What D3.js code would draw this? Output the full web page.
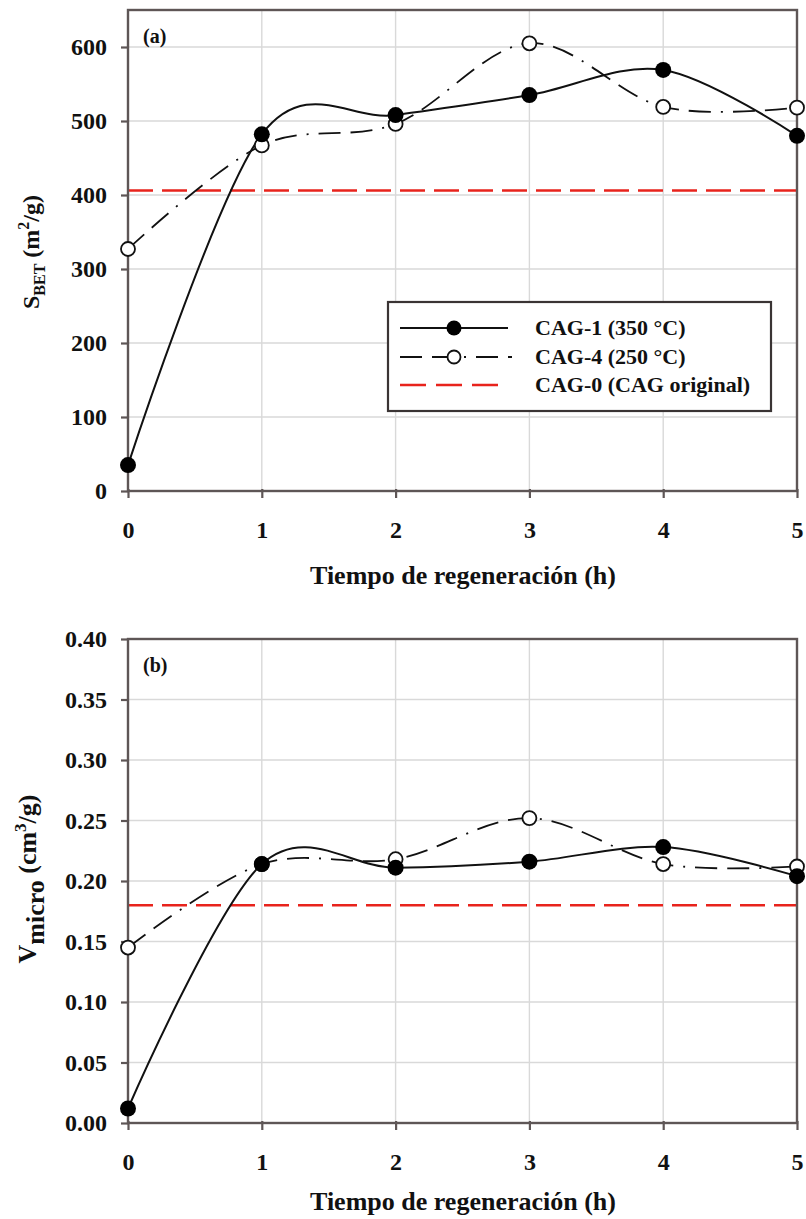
<!DOCTYPE html>
<html>
<head>
<meta charset="utf-8">
<script src="https://cdn.jsdelivr.net/npm/d3@7/dist/d3.min.js"></script>
<style>
  body { margin: 0; background: #fff; }
  svg { display: block; font-family: "Liberation Serif", "Times New Roman", serif; font-weight: bold; }
</style>
</head>
<body>
<svg id="chart" width="806" height="1219"></svg>
<script>
// regeneration time (h)
var hours = [0, 1, 2, 3, 4, 5];
// panel (a) S_BET (m2/g)
var sbetCag1 = [35, 482, 508, 535, 569, 480];
var sbetCag4 = [327, 467, 496, 605, 519, 518];
var sbetCag0 = 406;
var sbetTicks = [0, 100, 200, 300, 400, 500, 600];
// panel (b) V_micro (cm3/g)
var vmicCag1 = [0.012, 0.214, 0.211, 0.216, 0.228, 0.204];
var vmicCag4 = [0.145, 0.214, 0.218, 0.252, 0.214, 0.212];
var vmicCag0 = 0.18;
var vmicTicks = [0, 0.05, 0.10, 0.15, 0.20, 0.25, 0.30, 0.35, 0.40];
var legendNames = ['CAG-1 (350 °C)', 'CAG-4 (250 °C)', 'CAG-0 (CAG original)'];

const svg = d3.select('#chart');
const frameColor = '#5e5656';
const dashCag4 = '22,10,22,10,2,10';

//Draws one panel with grid, frame, curves, markers and labels
function drawPanel(opts) {
    const g = svg.append('g');
    const x = d3.scaleLinear().domain([0, 5]).range([128, 797]);
    const y = d3.scaleLinear().domain(opts.domain).range([opts.bottom, opts.top]);

    // grid
    g.selectAll('.hgrid').data(opts.ticks.filter(function(d) { return d > opts.domain[0]; }))
        .enter().append('line')
        .attr('x1', x(0)).attr('x2', x(5))
        .attr('y1', function(d) { return y(d); }).attr('y2', function(d) { return y(d); })
        .attr('stroke', '#d9d9d9').attr('stroke-width', 1.4);
    g.selectAll('.vgrid').data(hours.slice(1, 5))
        .enter().append('line')
        .attr('x1', function(d) { return x(d); }).attr('x2', function(d) { return x(d); })
        .attr('y1', y(opts.domain[0])).attr('y2', y(opts.domain[1]))
        .attr('stroke', '#d9d9d9').attr('stroke-width', 1.4);

    // axes
    const yAxis = d3.axisLeft(y).tickValues(opts.ticks).tickFormat(opts.fmt).tickSize(7).tickPadding(14);
    const xAxis = d3.axisBottom(x).tickValues(hours).tickFormat(d3.format('d')).tickSize(7).tickPadding(23);
    const ya = g.append('g').attr('transform', 'translate(' + x(0) + ',0)').call(yAxis);
    const xa = g.append('g').attr('transform', 'translate(0,' + y(opts.domain[0]) + ')').call(xAxis);
    [ya, xa].forEach(function(a) {
        a.select('.domain').remove();
        a.selectAll('line').attr('stroke', frameColor).attr('stroke-width', 2.2);
        a.selectAll('text').attr('fill', '#111').style('font-size', '24px')
            .style('font-family', '"Liberation Serif", serif').style('font-weight', 'bold');
    });
    xa.selectAll('line').attr('y1', -2);

    // red reference line
    g.append('line')
        .attr('x1', x(0)).attr('x2', x(5))
        .attr('y1', y(opts.ref)).attr('y2', y(opts.ref))
        .attr('stroke', '#e8231c').attr('stroke-width', 2.4)
        .attr('stroke-dasharray', '25,9');

    const line = d3.line()
        .x(function(d, i) { return x(hours[i]); })
        .y(function(d) { return y(d); })
        .curve(d3.curveCatmullRom.alpha(0));

    g.append('path').datum(opts.s4).attr('d', line)
        .attr('fill', 'none').attr('stroke', '#111').attr('stroke-width', 1.8)
        .attr('stroke-dasharray', dashCag4);
    g.append('path').datum(opts.s1).attr('d', line)
        .attr('fill', 'none').attr('stroke', '#111').attr('stroke-width', 2);

    // frame
    g.append('rect')
        .attr('x', x(0)).attr('y', y(opts.domain[1]))
        .attr('width', x(5) - x(0)).attr('height', y(opts.domain[0]) - y(opts.domain[1]))
        .attr('fill', 'none').attr('stroke', frameColor).attr('stroke-width', 2.4);

    // markers
    g.selectAll('.m4').data(opts.s4).enter().append('circle')
        .attr('cx', function(d, i) { return x(hours[i]); }).attr('cy', function(d) { return y(d); })
        .attr('r', 7).attr('fill', '#fff').attr('stroke', '#111').attr('stroke-width', 1.8);
    g.selectAll('.m1').data(opts.s1).enter().append('circle')
        .attr('cx', function(d, i) { return x(hours[i]); }).attr('cy', function(d) { return y(d); })
        .attr('r', 8).attr('fill', '#000');

    // panel letter
    g.append('text').attr('x', 143).attr('y', y(opts.domain[1]) + 33)
        .style('font-size', '20px').attr('fill', '#111').text(opts.letter);

    // x title
    g.append('text').attr('x', 463).attr('y', opts.titleY)
        .attr('text-anchor', 'middle').style('font-size', '26px').attr('fill', '#111')
        .text('Tiempo de regeneración (h)');

    return { g: g, x: x, y: y };
}

const pa = drawPanel({ domain: [0, 650], top: 10, bottom: 491, ticks: sbetTicks, fmt: d3.format('d'),
    s1: sbetCag1, s4: sbetCag4, ref: sbetCag0, letter: '(a)', titleY: 584 });
const pb = drawPanel({ domain: [0, 0.40], top: 639, bottom: 1123, ticks: vmicTicks, fmt: d3.format('.2f'),
    s1: vmicCag1, s4: vmicCag4, ref: vmicCag0, letter: '(b)', titleY: 1210 });

// y titles
const ta = svg.append('text').attr('transform', 'translate(39,252) rotate(-90)')
    .attr('text-anchor', 'middle').style('font-size', '24px').attr('fill', '#111');
ta.append('tspan').text('S');
ta.append('tspan').attr('dy', 6).style('font-size', '16px').text('BET');
ta.append('tspan').attr('dy', -6).text(' (m');
ta.append('tspan').attr('dy', -10).style('font-size', '16px').text('2');
ta.append('tspan').attr('dy', 10).text('/g)');

const tb = svg.append('text').attr('transform', 'translate(36,879) rotate(-90)')
    .attr('text-anchor', 'middle').style('font-size', '26px').attr('fill', '#111');
tb.append('tspan').text('V');
tb.append('tspan').attr('dy', 8).text('micro');
tb.append('tspan').attr('dy', -8).text(' (cm');
tb.append('tspan').attr('dy', -10).style('font-size', '17px').text('3');
tb.append('tspan').attr('dy', 10).text('/g)');

// legend
const lg = svg.append('g');
lg.append('rect').attr('x', 388).attr('y', 302).attr('width', 383).attr('height', 109)
    .attr('fill', '#fff').attr('stroke', '#3a3434').attr('stroke-width', 2.2);
const rows = [328, 357, 385];
lg.append('line').attr('x1', 400).attr('x2', 508).attr('y1', rows[0]).attr('y2', rows[0])
    .attr('stroke', '#111').attr('stroke-width', 2);
lg.append('circle').attr('cx', 454).attr('cy', rows[0]).attr('r', 7.5).attr('fill', '#000');
lg.append('line').attr('x1', 400).attr('x2', 512).attr('y1', rows[1]).attr('y2', rows[1])
    .attr('stroke', '#111').attr('stroke-width', 1.8).attr('stroke-dasharray', dashCag4);
lg.append('circle').attr('cx', 454).attr('cy', rows[1]).attr('r', 6.5).attr('fill', '#fff')
    .attr('stroke', '#111').attr('stroke-width', 1.8);
lg.append('line').attr('x1', 400).attr('x2', 508).attr('y1', rows[2]).attr('y2', rows[2])
    .attr('stroke', '#e8231c').attr('stroke-width', 2.4).attr('stroke-dasharray', '26,10');
lg.selectAll('.lt').data(legendNames).enter().append('text')
    .attr('x', 535).attr('y', function(d, i) { return rows[i] + 7; })
    .style('font-size', '22px').attr('fill', '#111').text(function(d) { return d; });
</script>
</body>
</html>
